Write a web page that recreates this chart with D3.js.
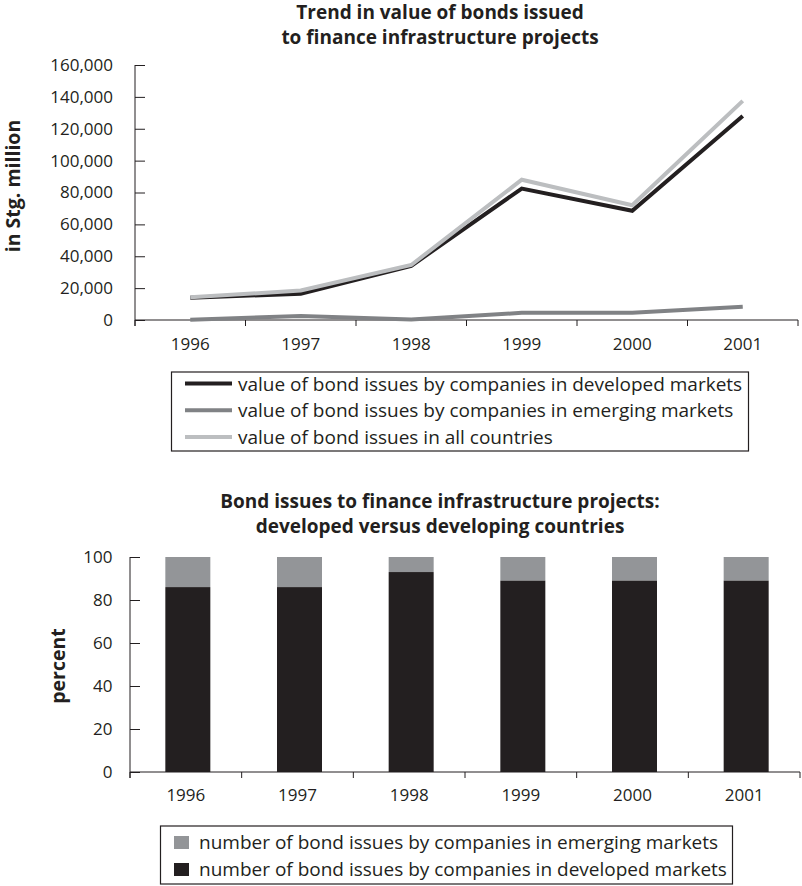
<!DOCTYPE html>
<html>
<head>
<meta charset="utf-8">
<script src="https://cdn.jsdelivr.net/npm/d3@7"></script>
<style>
  html, body { margin: 0; padding: 0; background: #fff; }
  svg text { font-family: "Open Sans", "Noto Sans", sans-serif; fill: #231f20; }
</style>
</head>
<body>
<svg id="chart" width="802" height="886"></svg>
<script>
// ---------- data ----------
const years = ["1996", "1997", "1998", "1999", "2000", "2001"];
const developedValue = [14000, 16500, 34000, 82500, 68500, 128000];
const emergingValue = [200, 2500, 300, 4500, 4500, 8300];
const allValue = [14200, 18500, 34500, 88000, 72000, 137500];
const valueTicks = [0, 20000, 40000, 60000, 80000, 100000, 120000, 140000, 160000];

const developedPct = [86, 86, 93, 89, 89, 89];
const emergingPct = [14, 14, 7, 11, 11, 11];
const pctTicks = [0, 20, 40, 60, 80, 100];

const lineSeries = [
  { name: "value of bond issues by companies in developed markets", values: developedValue, color: "#231f20" },
  { name: "value of bond issues by companies in emerging markets", values: emergingValue, color: "#808285" },
  { name: "value of bond issues in all countries", values: allValue, color: "#bcbec0" }
];
const barLegend = [
  { name: "number of bond issues by companies in emerging markets", color: "#939598" },
  { name: "number of bond issues by companies in developed markets", color: "#231f20" }
];

const svg = d3.select("#chart");
const ink = "#231f20";
const titleX = 440;

// ---------- top chart ----------
const t = { left: 135, right: 798, top: 65, bottom: 320 };
const x1 = d3.scaleBand().domain(years).range([t.left, t.right]);
const y1 = d3.scaleLinear().domain([0, 160000]).range([t.bottom, t.top]);

const title1 = svg.append("text").attr("text-anchor", "middle")
  .attr("font-weight", "bold").attr("font-size", 19);
title1.append("tspan").attr("x", titleX).attr("y", 19).text("Trend in value of bonds issued");
title1.append("tspan").attr("x", titleX).attr("y", 44).text("to finance infrastructure projects");

// y axis
const gy1 = svg.append("g").attr("transform", `translate(${t.left},0)`)
  .call(d3.axisRight(y1).tickValues(valueTicks).tickSize(10).tickFormat(d3.format(",")));
gy1.select(".domain").remove();
gy1.selectAll("line").attr("stroke", ink);
gy1.selectAll("text").attr("x", -22).attr("text-anchor", "end").attr("font-size", 17)
  .attr("font-family", "Open Sans").attr("fill", ink);
svg.append("line").attr("x1", t.left).attr("x2", t.left).attr("y1", t.top).attr("y2", t.bottom + 6)
  .attr("stroke", ink);

// x axis
svg.append("line").attr("x1", t.left).attr("x2", t.right).attr("y1", t.bottom).attr("y2", t.bottom).attr("stroke", ink);
const bounds1 = years.map(d => x1(d)).concat([t.right]);
svg.append("g").selectAll("line").data(bounds1).join("line")
  .attr("x1", d => d).attr("x2", d => d).attr("y1", t.bottom).attr("y2", t.bottom + 6).attr("stroke", ink);
svg.append("g").selectAll("text").data(years).join("text")
  .attr("x", d => x1(d) + x1.bandwidth() / 2).attr("y", 350)
  .attr("text-anchor", "middle").attr("font-size", 17).text(d => d);

svg.append("text").attr("transform", "translate(20,186) rotate(-90)")
  .attr("text-anchor", "middle").attr("font-family", "DejaVu Sans").attr("font-weight", "bold")
  .attr("font-size", 19.5).text("in Stg. million");

// lines
const line = d3.line().x((d, i) => x1(years[i]) + x1.bandwidth() / 2).y(d => y1(d));
[lineSeries[0], lineSeries[2], lineSeries[1]].forEach(s => {
  svg.append("path").datum(s.values).attr("d", line).attr("fill", "none")
    .attr("stroke", s.color).attr("stroke-width", 4).attr("stroke-linejoin", "miter");
});

// legend top
const lg1 = svg.append("g");
lg1.append("rect").attr("x", 171.5).attr("y", 372).attr("width", 577).attr("height", 79)
  .attr("fill", "none").attr("stroke", ink).attr("stroke-width", 1.2);
lineSeries.forEach((s, i) => {
  const cy = 383.5 + i * 26.7;
  lg1.append("line").attr("x1", 185).attr("x2", 232).attr("y1", cy).attr("y2", cy)
    .attr("stroke", s.color).attr("stroke-width", 4);
  lg1.append("text").attr("x", 238).attr("y", cy + 7).attr("font-size", 19).text(s.name);
});

// ---------- bottom chart ----------
const b = { left: 130, right: 800, top: 557, bottom: 772 };
const xb = d3.scaleBand().domain(years).range([b.left, b.right]);
const y2 = d3.scaleLinear().domain([0, 100]).range([b.bottom, b.top]);

const title2 = svg.append("text").attr("text-anchor", "middle")
  .attr("font-weight", "bold").attr("font-size", 19);
title2.append("tspan").attr("x", titleX).attr("y", 508).text("Bond issues to finance infrastructure projects:");
title2.append("tspan").attr("x", titleX).attr("y", 533).text("developed versus developing countries");

const gy2 = svg.append("g").attr("transform", `translate(${b.left},0)`)
  .call(d3.axisRight(y2).tickValues(pctTicks).tickSize(10));
gy2.select(".domain").remove();
gy2.selectAll("line").attr("stroke", ink);
gy2.selectAll("text").attr("x", -17.5).attr("text-anchor", "end").attr("font-size", 17)
  .attr("font-family", "Open Sans").attr("fill", ink);
svg.append("line").attr("x1", b.left).attr("x2", b.left).attr("y1", b.top).attr("y2", b.bottom + 6)
  .attr("stroke", ink);

// bars
const bw = 45;
svg.append("g").selectAll("rect").data(years).join("rect")
  .attr("x", d => xb(d) + xb.bandwidth() / 2 - bw / 2 + 2)
  .attr("width", bw)
  .attr("y", (d, i) => y2(developedPct[i] + emergingPct[i]))
  .attr("height", (d, i) => y2(developedPct[i]) - y2(developedPct[i] + emergingPct[i]))
  .attr("fill", "#939598");
svg.append("g").selectAll("rect").data(years).join("rect")
  .attr("x", d => xb(d) + xb.bandwidth() / 2 - bw / 2 + 2)
  .attr("width", bw)
  .attr("y", (d, i) => y2(developedPct[i]))
  .attr("height", (d, i) => y2(0) - y2(developedPct[i]))
  .attr("fill", "#231f20");

svg.append("line").attr("x1", b.left).attr("x2", b.right).attr("y1", b.bottom).attr("y2", b.bottom).attr("stroke", ink);
const bounds2 = years.map(d => xb(d)).concat([b.right]);
svg.append("g").selectAll("line").data(bounds2).join("line")
  .attr("x1", d => d).attr("x2", d => d).attr("y1", b.bottom).attr("y2", b.bottom + 6).attr("stroke", ink);
svg.append("g").selectAll("text").data(years).join("text")
  .attr("x", d => xb(d) + xb.bandwidth() / 2).attr("y", 801)
  .attr("text-anchor", "middle").attr("font-size", 17).text(d => d);

svg.append("text").attr("transform", "translate(65,666) rotate(-90)")
  .attr("text-anchor", "middle").attr("font-family", "DejaVu Sans").attr("font-weight", "bold")
  .attr("font-size", 19.5).text("percent");

// legend bottom
const lg2 = svg.append("g");
lg2.append("rect").attr("x", 160.5).attr("y", 826).attr("width", 572).attr("height", 58)
  .attr("fill", "none").attr("stroke", ink).attr("stroke-width", 1.2);
barLegend.forEach((s, i) => {
  const cy = 842 + i * 27;
  lg2.append("rect").attr("x", 174).attr("y", cy - 6).attr("width", 15).attr("height", 13).attr("fill", s.color);
  lg2.append("text").attr("x", 199).attr("y", cy + 7).attr("font-size", 19).text(s.name);
});
</script>
</body>
</html>
